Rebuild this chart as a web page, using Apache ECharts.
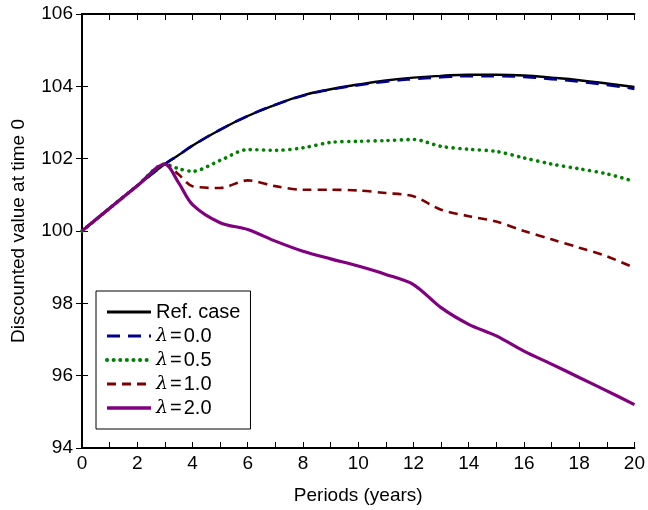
<!DOCTYPE html>
<html>
<head>
<meta charset="utf-8">
<script src="https://cdn.jsdelivr.net/npm/echarts@6/dist/echarts.min.js"></script>
<style>
  html, body { margin: 0; padding: 0; background: #fff; }
  #chart { width: 648px; height: 510px; }
</style>
</head>
<body>
<div id="chart"></div>
<script>
// Discounted value at time 0 over the horizon, for several lambda settings
const periods   = [0, 1, 2, 3, 3.5, 4, 5, 6, 7, 8, 9, 10, 11, 12, 13, 14, 15, 16, 17, 18, 19, 20];
const refCase   = [100, 100.63, 101.25, 101.85, 102.1, 102.36, 102.8, 103.18, 103.49, 103.75, 103.92, 104.05, 104.16, 104.24, 104.29, 104.32, 104.32, 104.3, 104.24, 104.17, 104.08, 103.98];
const lambda00  = [100, 100.63, 101.25, 101.85, 102.1, 102.36, 102.8, 103.18, 103.49, 103.74, 103.91, 104.03, 104.13, 104.2, 104.25, 104.28, 104.28, 104.26, 104.2, 104.13, 104.04, 103.93];
const lambda05  = [100, 100.63, 101.25, 101.85, 101.72, 101.65, 101.95, 102.25, 102.23, 102.3, 102.45, 102.48, 102.5, 102.53, 102.34, 102.26, 102.2, 102.02, 101.85, 101.72, 101.58, 101.37];
const lambda10  = [100, 100.63, 101.25, 101.85, 101.56, 101.24, 101.19, 101.4, 101.24, 101.14, 101.14, 101.12, 101.05, 100.96, 100.59, 100.41, 100.26, 100.0, 99.77, 99.54, 99.3, 98.98];
const lambda20  = [100, 100.63, 101.25, 101.85, 101.33, 100.73, 100.23, 100.04, 99.72, 99.44, 99.23, 99.03, 98.8, 98.52, 97.88, 97.42, 97.1, 96.68, 96.32, 95.95, 95.58, 95.2];

const xTicks = { min: 0, max: 20, interval: 2 };
const yTicks = { min: 94, max: 106, interval: 2 };

const seriesNames = ['Ref. case', 'λ=0.0', 'λ=0.5', 'λ=1.0', 'λ=2.0'];

const pairs = ys => periods.map((x, i) => [x, ys[i]]);

const FONT = 'Liberation Sans';

// line styles shared by the plotted curves and their legend keys
const styles = [
  { color: '#000000', width: 2.4, type: 'solid' },
  { color: '#00008b', width: 2.6, type: [13, 8] },
  { color: '#008000', width: 3.6, type: [0.1, 6.5], cap: 'round' },
  { color: '#800000', width: 2.6, type: [9, 6] },
  { color: '#800080', width: 3.2, type: 'solid' }
];

const tickCommon = {
  axisLine: { show: true, lineStyle: { color: '#000', width: 2 } },
  axisTick: { show: true, inside: true, length: 6, lineStyle: { color: '#000', width: 1 } },
  splitLine: { show: false }
};

const chart = echarts.init(document.getElementById('chart'));

chart.setOption({
  animation: false,
  backgroundColor: '#fff',
  grid: { left: 82, right: 11, top: 14, bottom: 61, containLabel: false },
  xAxis: [
    Object.assign({
      type: 'value', min: xTicks.min, max: xTicks.max, interval: xTicks.interval,
      position: 'bottom',
      name: 'Periods (years)', nameLocation: 'middle', nameGap: 38,
      nameTextStyle: { fontFamily: FONT, fontSize: 19, color: '#000' },
      axisLabel: { fontFamily: FONT, fontSize: 19, color: '#000', margin: 6 },
      minorTick: { show: true, splitNumber: 2, length: 6, lineStyle: { color: '#000', width: 1 } }
    }, tickCommon),
    Object.assign({
      type: 'value', min: xTicks.min, max: xTicks.max, interval: xTicks.interval,
      position: 'top',
      axisLabel: { show: false },
      minorTick: { show: true, splitNumber: 2, length: 6, lineStyle: { color: '#000', width: 1 } }
    }, tickCommon)
  ],
  yAxis: [
    Object.assign({
      type: 'value', min: yTicks.min, max: yTicks.max, interval: yTicks.interval,
      position: 'left',
      name: 'Discounted value at time 0', nameLocation: 'middle', nameGap: 54,
      nameTextStyle: { fontFamily: FONT, fontSize: 19, color: '#000' },
      axisLabel: { fontFamily: FONT, fontSize: 19, color: '#000', margin: 9 }
    }, tickCommon),
    Object.assign({
      type: 'value', min: yTicks.min, max: yTicks.max, interval: yTicks.interval,
      position: 'right',
      axisLabel: { show: false }
    }, tickCommon)
  ],
  legend: {
    data: seriesNames.map((name, i) => ({
      name,
      lineStyle: Object.assign({}, styles[i], { width: styles[i].width + 0.4 })
    })),
    orient: 'vertical',
    left: 96,
    top: 291,
    padding: [10, 10, 10, 9],
    itemWidth: 44,
    itemHeight: 14,
    itemGap: 2,
    itemTextGap: 9,
    borderColor: '#000',
    borderWidth: 1,
    borderRadius: 0,
    backgroundColor: '#fff',
    itemStyle: { color: 'transparent', borderWidth: 0 },
    textStyle: {
      fontFamily: FONT, fontSize: 20, color: '#000', lineHeight: 22,
      rich: {
        l: { fontFamily: 'DejaVu Serif', fontStyle: 'italic', fontSize: 19, color: '#000', lineHeight: 22 },
        e: { fontFamily: FONT, fontSize: 20, color: '#000', lineHeight: 22, padding: [0, 2, 0, 2] }
      }
    },
    formatter: name => name.startsWith('λ') ? '{l|λ}{e|=}' + name.slice(2) : name
  },
  series: [refCase, lambda00, lambda05, lambda10, lambda20].map((ys, i) => ({
    name: seriesNames[i],
    type: 'line',
    data: pairs(ys),
    smooth: i < 2 ? true : 0.3,
    symbol: 'none',
    z: 3 + i,
    lineStyle: styles[i],
    itemStyle: { color: styles[i].color }
  }))
});
</script>
</body>
</html>
